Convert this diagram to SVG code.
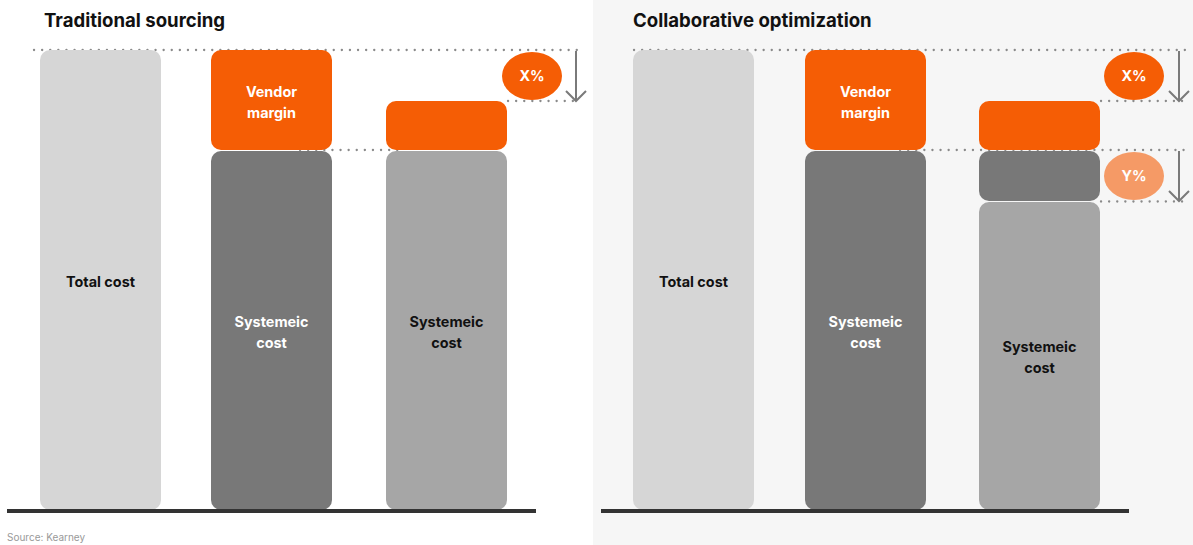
<svg xmlns="http://www.w3.org/2000/svg" width="1193" height="545" viewBox="0 0 1193 545">
<style>
.title{font-family:Inter,"Noto Sans",sans-serif;font-weight:700;font-size:18.6px;fill:#111}
.lbl{font-family:Inter,"Noto Sans",sans-serif;font-weight:700;font-size:14.4px;text-anchor:middle}
.dk{fill:#111}
.wh{fill:#fff}
.dot{stroke:#8a8a8a;stroke-width:2.3;stroke-linecap:round;stroke-dasharray:0.1 8;fill:none}
.arr{stroke:#7a7a7a;stroke-width:2;fill:none}
.base{stroke:#333;stroke-width:4}
.or{fill:#f55d05}
.lo{fill:#f59a66}
.lg{fill:#d6d6d6}
.dg{fill:#787878}
.mg{fill:#a6a6a6}
.src{font-family:Inter,"Noto Sans",sans-serif;font-size:10px;fill:#999}
</style>
<rect x="0" y="0" width="1193" height="545" fill="#fff"/>
<rect x="593" y="0" width="600" height="545" fill="#f6f6f6"/>

<g id="connectors">
<line class="dot" x1="34" y1="50" x2="578" y2="50"/>
<line class="dot" x1="508" y1="101" x2="578" y2="101"/>
<line class="dot" x1="300" y1="150" x2="400" y2="150"/>
<path class="arr" d="M576,51 V101 M566,91 L576,101 L586,91"/>
<line class="dot" x1="634" y1="50" x2="1188" y2="50"/>
<line class="dot" x1="1101" y1="101" x2="1188" y2="101"/>
<line class="dot" x1="900" y1="150" x2="1188" y2="150"/>
<line class="dot" x1="1101" y1="201.5" x2="1188" y2="201.5"/>
<path class="arr" d="M1179,51 V101 M1169,91 L1179,101 L1189,91"/>
<path class="arr" d="M1179,151 V201 M1169,191 L1179,201 L1189,191"/>
</g>

<g id="title-left"><text class="title" x="44" y="27">Traditional sourcing</text></g>
<g id="title-right"><text class="title" x="633" y="27">Collaborative optimization</text></g>

<g id="left-total">
<rect class="lg" x="40" y="50" width="121" height="460" rx="10"/>
<text class="lbl dk" x="100.5" y="287">Total cost</text>
</g>
<g id="left-vendor">
<rect class="or" x="211" y="50" width="121" height="100" rx="10"/>
<text class="lbl wh" x="271.5" y="97">Vendor</text>
<text class="lbl wh" x="271.5" y="118">margin</text>
</g>
<g id="left-systemic">
<rect class="dg" x="211" y="151" width="121" height="359" rx="10"/>
<text class="lbl wh" x="271.5" y="327">Systemeic</text>
<text class="lbl wh" x="271.5" y="348">cost</text>
</g>
<g id="left-margin2">
<rect class="or" x="386" y="101" width="121" height="49" rx="10"/>
</g>
<g id="left-systemic2">
<rect class="mg" x="386" y="151" width="121" height="359" rx="10"/>
<text class="lbl dk" x="446.5" y="327">Systemeic</text>
<text class="lbl dk" x="446.5" y="348">cost</text>
</g>
<g id="left-x">
<ellipse class="or" cx="532" cy="76" rx="30" ry="24"/>
<text class="lbl wh" x="532" y="81">X%</text>
</g>

<g id="right-total">
<rect class="lg" x="633" y="50" width="121" height="460" rx="10"/>
<text class="lbl dk" x="693.5" y="287">Total cost</text>
</g>
<g id="right-vendor">
<rect class="or" x="805" y="50" width="121" height="100" rx="10"/>
<text class="lbl wh" x="865.5" y="97">Vendor</text>
<text class="lbl wh" x="865.5" y="118">margin</text>
</g>
<g id="right-systemic">
<rect class="dg" x="805" y="151" width="121" height="359" rx="10"/>
<text class="lbl wh" x="865.5" y="327">Systemeic</text>
<text class="lbl wh" x="865.5" y="348">cost</text>
</g>
<g id="right-margin2">
<rect class="or" x="979" y="101" width="121" height="49" rx="10"/>
</g>
<g id="right-reduced">
<rect class="dg" x="979" y="151" width="121" height="50" rx="10"/>
</g>
<g id="right-systemic2">
<rect class="mg" x="979" y="202" width="121" height="308" rx="10"/>
<text class="lbl dk" x="1039.5" y="352">Systemeic</text>
<text class="lbl dk" x="1039.5" y="373">cost</text>
</g>
<g id="right-x">
<ellipse class="or" cx="1134" cy="76" rx="30" ry="24"/>
<text class="lbl wh" x="1134" y="81">X%</text>
</g>
<g id="right-y">
<ellipse class="lo" cx="1134" cy="176" rx="30" ry="24"/>
<text class="lbl wh" x="1134" y="181">Y%</text>
</g>

<g id="baselines">
<line class="base" x1="7" y1="511" x2="536" y2="511"/>
<line class="base" x1="601" y1="511" x2="1129" y2="511"/>
</g>
<text class="src" x="7" y="541">Source: Kearney</text>
</svg>
